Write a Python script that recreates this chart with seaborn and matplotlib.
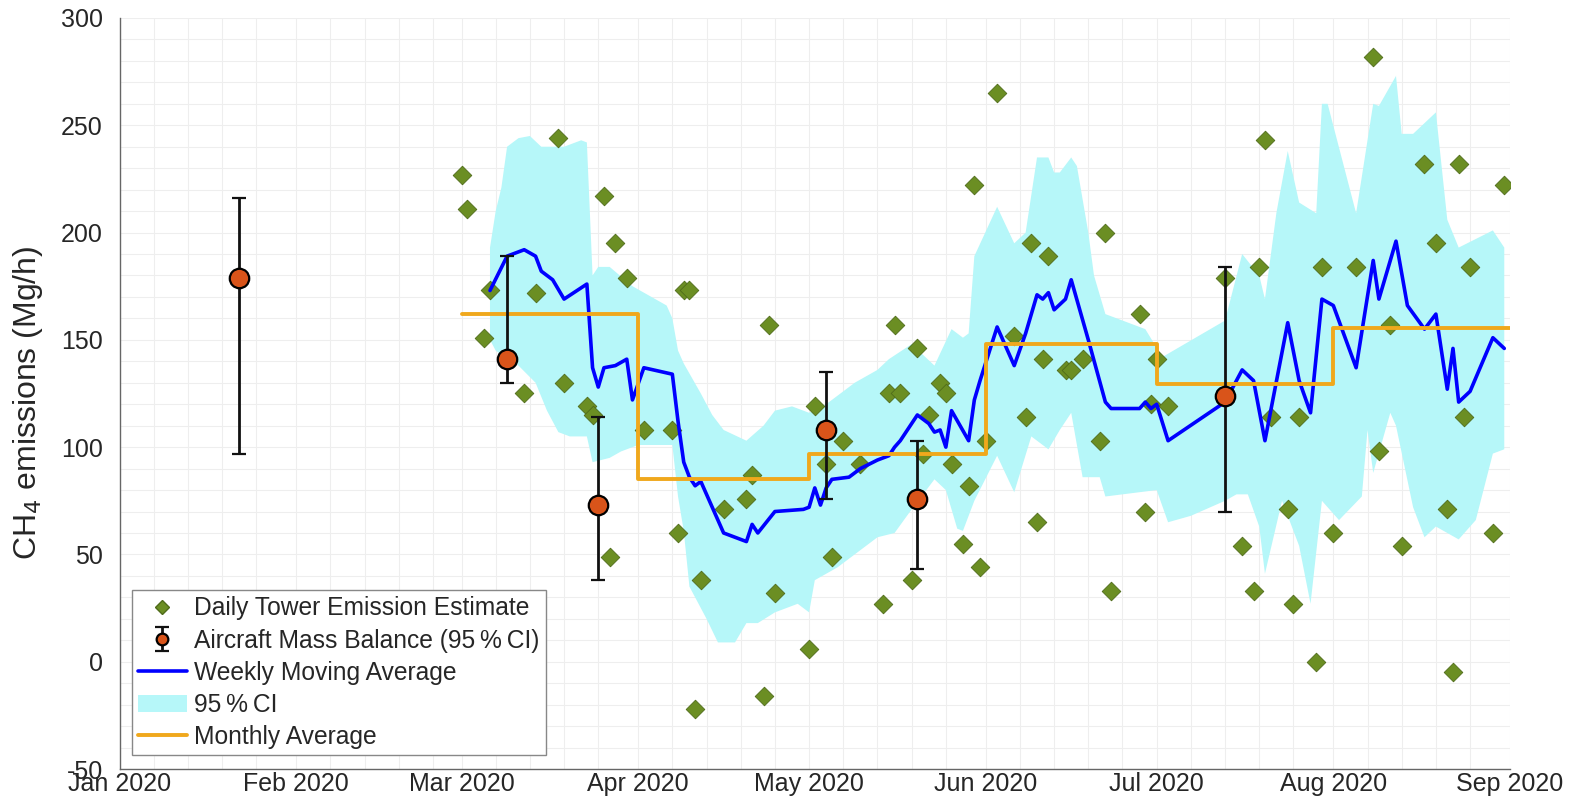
import numpy as np
import pandas as pd
import matplotlib
matplotlib.use("Agg")
import matplotlib.pyplot as plt
import matplotlib.dates as mdates
from matplotlib.ticker import MultipleLocator
from matplotlib.lines import Line2D
from matplotlib.patches import Patch
import seaborn as sns

ORIGIN = pd.Timestamp("2020-01-01")

# Daily tower emission estimates (day offset from 1 Jan 2020, Mg/h)
tower_day = [60, 61, 64, 65, 71, 73, 77, 78, 82, 83,
             85, 86, 87, 89, 92, 97, 98, 99, 100, 101,
             102, 106, 110, 111, 113, 114, 115, 121, 122, 124,
             125, 127, 130, 134, 135, 136, 137, 139, 140, 141,
             142, 144, 145, 146, 148, 149, 150, 151, 152, 154,
             157, 159, 160, 161, 162, 163, 166, 167, 169, 172,
             173, 174, 179, 180, 181, 182, 184, 194, 197, 199,
             200, 201, 202, 205, 206, 207, 210, 211, 213, 217,
             220, 221, 223, 225, 229, 231, 233, 234, 235, 236,
             237, 241, 243]
tower_val = [227, 211, 151, 173, 125, 172, 244, 130, 119, 115,
             217, 49, 195, 179, 108, 108, 60, 173, 173, -22,
             38, 71, 76, 87, -16, 157, 32, 6, 119, 92,
             49, 103, 92, 27, 125, 157, 125, 38, 146, 97,
             115, 130, 125, 92, 55, 82, 222, 44, 103, 265,
             152, 114, 195, 65, 141, 189, 136, 136, 141, 103,
             200, 33, 162, 70, 120, 141, 119, 179, 54, 33,
             184, 243, 114, 71, 27, 114, 0, 184, 60, 184,
             282, 98, 157, 54, 232, 195, 71, -5, 232, 114,
             184, 60, 222]

# Weekly moving average
wma_day = [65, 68, 71, 73, 74, 76, 78, 82, 83, 84,
           85, 87, 89, 90, 92, 97, 98, 99, 100, 101,
           102, 106, 110, 111, 112, 115, 120, 121, 122, 123,
           124, 125, 128, 130, 133, 135, 136, 137, 140, 142,
           143, 144, 145, 146, 149, 150, 151, 154, 157, 159,
           161, 162, 163, 164, 166, 167, 170, 173, 174, 179,
           180, 181, 182, 184, 194, 197, 199, 201, 205, 207,
           209, 211, 213, 217, 220, 221, 224, 226, 229, 231,
           233, 234, 235, 237, 241, 243]
wma_val = [173, 189, 192, 189, 182, 178, 169, 176, 137, 128,
           137, 138, 141, 122, 137, 134, 112, 93, 86, 82,
           84, 60, 56, 64, 60, 70, 71, 72, 81, 73,
           81, 85, 86, 90, 94, 96, 100, 103, 115, 111,
           107, 108, 100, 117, 103, 122, 131, 156, 138, 153,
           171, 169, 172, 164, 169, 178, 150, 121, 118, 118,
           121, 118, 120, 103, 121, 136, 131, 103, 158, 131,
           116, 169, 166, 137, 187, 169, 196, 166, 155, 162,
           127, 146, 121, 126, 151, 146]

# 95 % confidence band of the moving average
ci_up_day = [65, 66, 67, 68, 70, 72, 74, 78, 81, 82,
             83, 84, 86, 90, 92, 96, 97, 98, 99, 102,
             104, 106, 110, 113, 115, 118, 121, 124, 129, 133,
             135, 139, 143, 146, 148, 149, 150, 154, 157, 159,
             161, 163, 164, 165, 167, 168, 170, 171, 173, 180,
             183, 194, 197, 200, 201, 203, 205, 207, 210, 211,
             212, 217, 220, 221, 224, 225, 227, 231, 233, 235,
             238, 241, 243]
ci_up_val = [193, 210, 221, 240, 244, 245, 240, 240, 243, 242,
             180, 184, 184, 175, 172, 166, 160, 145, 139, 125,
             115, 108, 103, 110, 117, 119, 116, 120, 130, 136,
             141, 148, 138, 155, 151, 153, 189, 212, 195, 200,
             235, 235, 228, 228, 235, 231, 200, 180, 162, 155,
             142, 159, 190, 180, 169, 209, 238, 214, 209, 260,
             260, 209, 260, 259, 273, 246, 246, 256, 206, 193,
             197, 201, 193]
ci_lo_day = [65, 66, 68, 70, 73, 75, 77, 79, 82, 83,
             86, 88, 91, 97, 98, 99, 100, 103, 105, 108,
             110, 112, 115, 119, 121, 122, 126, 130, 133, 136,
             139, 141, 143, 145, 147, 148, 150, 154, 157, 160,
             163, 165, 167, 169, 172, 173, 182, 184, 188, 194,
             196, 198, 200, 201, 204, 207, 209, 211, 214, 218,
             219, 220, 223, 224, 227, 229, 231, 235, 238, 241,
             243]
ci_lo_val = [150, 145, 141, 138, 130, 117, 107, 105, 105, 93,
             95, 98, 101, 101, 77, 61, 35, 20, 9, 9,
             18, 18, 23, 27, 23, 38, 44, 52, 58, 60,
             71, 78, 85, 80, 62, 61, 75, 96, 79, 105,
             99, 108, 116, 86, 86, 77, 80, 65, 68, 75,
             78, 78, 63, 41, 75, 54, 27, 75, 66, 77,
             108, 88, 116, 110, 72, 58, 63, 57, 66, 97,
             99]

# Monthly averages (value holds until the next month start)
month_start = ["2020-03-01", "2020-04-01", "2020-05-01", "2020-06-01",
               "2020-07-01", "2020-08-01", "2020-09-01"]
month_val = [162, 85, 97, 148, 129.5, 155.5, 155.5]

# Aircraft mass balance with 95 % CI
aircraft_date = ["2020-01-22", "2020-03-09", "2020-03-25",
                 "2020-05-04", "2020-05-20", "2020-07-13"]
aircraft_val = [179, 141, 73, 108, 76, 124]
aircraft_lo = [97, 130, 38, 76, 43, 70]
aircraft_hi = [216, 189, 114, 135, 103, 184]

month_ticks = ["2020-01-01", "2020-02-01", "2020-03-01", "2020-04-01", "2020-05-01",
               "2020-06-01", "2020-07-01", "2020-08-01", "2020-09-01"]
y_ticks = [-50, 0, 50, 100, 150, 200, 250, 300]


def to_dates(days):
    return ORIGIN + pd.to_timedelta(np.asarray(days), unit="D")


sns.set_style("white")
plt.rcParams["font.family"] = ["Liberation Sans", "DejaVu Sans"]
plt.rcParams["axes.unicode_minus"] = False

C_TEXT = "#262626"
C_BLUE = "#0000ff"
C_ORANGE = "#f0a81c"
C_BAND = "#b6f7f9"
C_GREEN = "#6b8e23"
C_RED = "#d9541a"

fig = plt.figure(figsize=(15.76, 8.10), dpi=100)
ax = fig.add_axes([0.0759, 0.0506, 0.8822, 0.9272])

tower = pd.DataFrame({"date": to_dates(tower_day), "value": tower_val})
wma = pd.DataFrame({"date": to_dates(wma_day), "value": wma_val})
months = pd.DataFrame({"date": pd.to_datetime(month_start), "value": month_val})

# confidence band as one closed polygon (upper edge forward, lower edge back)
band_x = np.concatenate([mdates.date2num(to_dates(ci_up_day)),
                         mdates.date2num(to_dates(ci_lo_day))[::-1]])
band_y = np.concatenate([ci_up_val, ci_lo_val[::-1]])
ax.fill(band_x, band_y, color=C_BAND, lw=0, zorder=1)

sns.scatterplot(data=tower, x="date", y="value", ax=ax, marker="D", s=90,
                color=C_GREEN, edgecolor="#4f6b1a", linewidth=0.6, zorder=2,
                legend=False)
sns.lineplot(data=wma, x="date", y="value", ax=ax, color=C_BLUE, lw=2.6,
             zorder=3, legend=False)
ax.step(months["date"], months["value"], where="post", color=C_ORANGE,
        lw=2.8, zorder=4)

a_dates = pd.to_datetime(aircraft_date)
a_val = np.array(aircraft_val, float)
yerr = np.vstack([a_val - np.array(aircraft_lo), np.array(aircraft_hi) - a_val])
ax.errorbar(a_dates, a_val, yerr=yerr, fmt="o", ms=14, mfc=C_RED, mec="black",
            mew=1.6, ecolor="#111111", elinewidth=2.0, capsize=5, capthick=2.0,
            zorder=5)

# axes, ticks and grid
ax.set_xlim(pd.Timestamp("2020-01-01"), pd.Timestamp("2020-09-01"))
ax.set_ylim(-50, 300)
ax.set_xticks(pd.to_datetime(month_ticks))
ax.xaxis.set_major_formatter(mdates.DateFormatter("%b %Y"))
ax.xaxis.set_minor_locator(mdates.DayLocator(bymonthday=[7, 13, 19, 25]))
ax.set_yticks(y_ticks)
ax.yaxis.set_minor_locator(MultipleLocator(10))
ax.grid(which="both", color="#eeeeee", lw=0.8)
ax.set_axisbelow(True)
ax.tick_params(which="major", direction="in", length=8, width=1,
               color="#555555", labelsize=18, labelcolor=C_TEXT,
               top=False, right=False)
ax.tick_params(axis="y", which="major", pad=12)
ax.tick_params(axis="x", which="major", pad=2)
ax.tick_params(which="minor", length=0)
for side in ("top", "right"):
    ax.spines[side].set_visible(False)
for side in ("left", "bottom"):
    ax.spines[side].set_color("#666666")
    ax.spines[side].set_linewidth(1.0)

ax.set_xlabel("")
ax.set_ylabel("CH$_4$ emissions (Mg/h)", fontsize=23, color=C_TEXT)
ax.yaxis.set_label_coords(-0.054, 0.487)

handles = [
    Line2D([], [], ls="none", marker="D", ms=12, mfc=C_GREEN, mec="#4f6b1a"),
    ax.containers[-1],
    Line2D([], [], color=C_BLUE, lw=2.6),
    Patch(facecolor=C_BAND, edgecolor="none"),
    Line2D([], [], color=C_ORANGE, lw=2.8),
]
labels = ["Daily Tower Emission Estimate",
          "Aircraft Mass Balance (95\u2009%\u2009CI)",
          "Weekly Moving Average",
          "95\u2009%\u2009CI",
          "Monthly Average"]
leg = ax.legend(handles, labels, loc="lower left", bbox_to_anchor=(0.0087, 0.0186),
                borderaxespad=0, fontsize=17.7, frameon=True, fancybox=False,
                edgecolor="#888888", framealpha=1, markerscale=0.6,
                handlelength=2.0, handletextpad=0.3, borderpad=0.25,
                labelspacing=0.33)
leg.get_frame().set_linewidth(1.0)
for t in leg.get_texts():
    t.set_color(C_TEXT)

fig.savefig("out.png", dpi=100)
